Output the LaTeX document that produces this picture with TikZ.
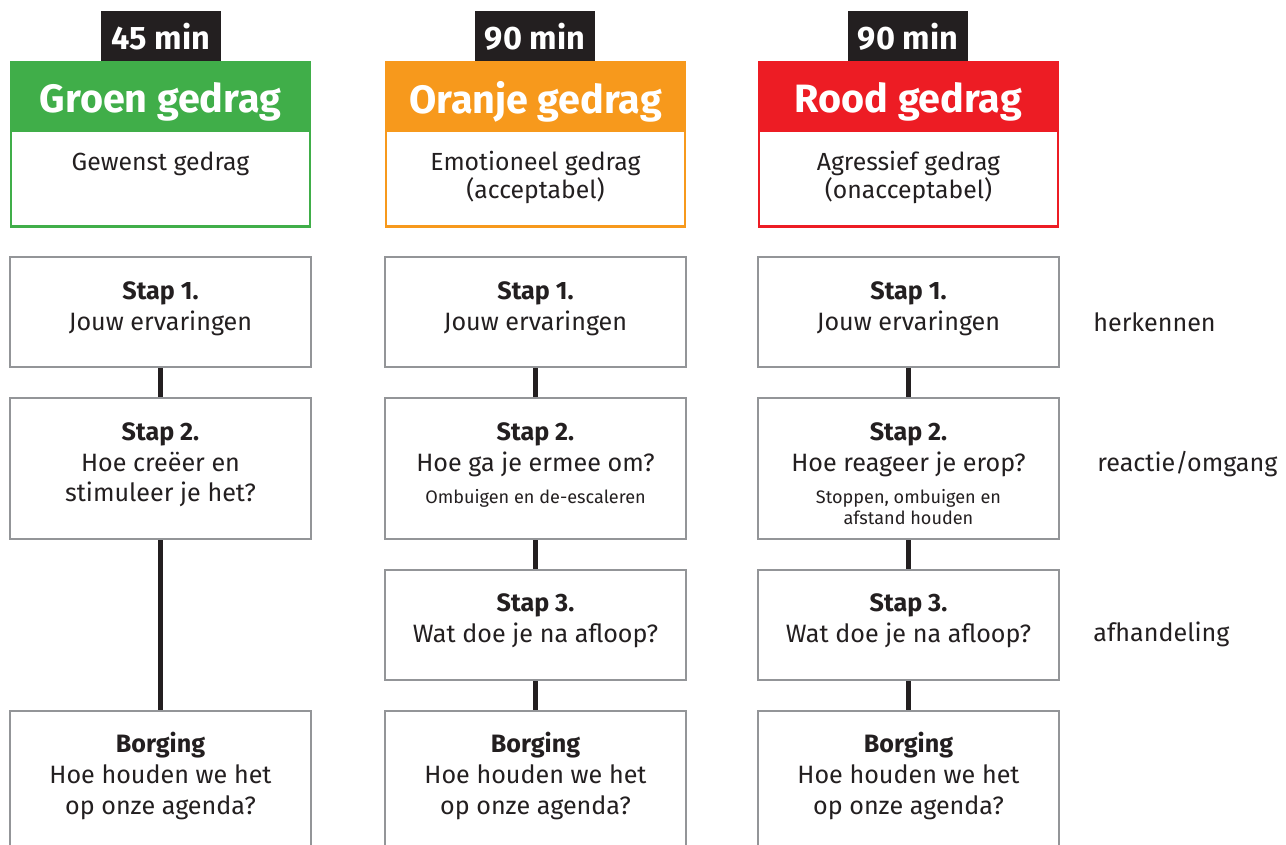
\documentclass[tikz,border=0pt]{standalone}
\usepackage{fontspec}
\setmainfont{Fira Sans}
\usepackage{tikz}
\usetikzlibrary{positioning}

\definecolor{groen}{HTML}{40AE49}
\definecolor{oranje}{HTML}{F7991C}
\definecolor{rood}{HTML}{ED1C24}
\definecolor{tabzwart}{HTML}{231F20}
\definecolor{rand}{HTML}{939598}

\begin{document}
\begin{tikzpicture}[
  x=0.02cm, y=-0.02cm,
  font=\fontsize{14.3}{17.4}\selectfont, text=tabzwart,
  timetab/.style={fill=tabzwart, text=white, minimum width=2.4cm, minimum height=1.02cm,
    inner sep=0pt, font=\fontsize{18.5}{20}\selectfont\bfseries},
  header/.style={fill=#1, text=white, minimum width=6.02cm, minimum height=1.4cm,
    inner sep=0pt, text depth=0pt, font=\fontsize{22.5}{24}\selectfont\bfseries},
  desc/.style={draw=#1, line width=1.2pt, fill=white, minimum width=5.98cm,
    inner sep=0pt, font=\fontsize{14.1}{14.4}\selectfont},
  stepbox/.style={draw=rand, line width=1.4pt, fill=white, minimum width=6.02cm,
    inner sep=0pt},
  link/.style={line width=2.8pt, draw=tabzwart},
  side/.style={anchor=west, inner sep=0pt}
]
\useasboundingbox (0,0) rectangle (1286,845);

  % Groen
  \node[timetab] (g-time) at (161,36.5) {45 min};
  \node[desc=groen] (g-desc) at (160.5,144.5)
    {\parbox[c][3.28cm][t]{5.9cm}{\centering\vspace*{1.78cm}Gewenst gedrag}};
  \node[header=groen] (g-head) at (160.5,97) {Groen gedrag};
  \node[stepbox] (g1) at (160.5,312)
    {\parbox[c][2.2cm][t]{5.9cm}{\centering\vspace*{0.5cm}\textbf{Stap 1.}\\Jouw ervaringen}};
  \node[stepbox] (g2) at (160.5,468.5)
    {\parbox[c][2.82cm][t]{5.9cm}{\centering\vspace*{0.5cm}\textbf{Stap 2.}\\Hoe creëer en\\stimuleer je het?}};
  \node[stepbox] (g4) at (160.5,785.5)
    {\parbox[c][2.98cm][t]{5.9cm}{\centering\vspace*{0.43cm}\textbf{Borging}\\Hoe houden we het\\op onze agenda?}};

  % Oranje
  \node[timetab] (o-time) at (535,36.5) {90 min};
  \node[desc=oranje] (o-desc) at (535.5,144.5)
    {\parbox[c][3.28cm][t]{5.9cm}{\centering\vspace*{1.78cm}Emotioneel gedrag\\(acceptabel)}};
  \node[header=oranje] (o-head) at (535.5,97) {Oranje gedrag};
  \node[stepbox] (o1) at (535.5,312)
    {\parbox[c][2.2cm][t]{5.9cm}{\centering\vspace*{0.5cm}\textbf{Stap 1.}\\Jouw ervaringen}};
  \node[stepbox] (o2) at (535.5,468.5)
    {\parbox[c][2.82cm][t]{5.9cm}{\centering\vspace*{0.5cm}\textbf{Stap 2.}\\Hoe ga je ermee om?\par
     \vspace{6pt}{\fontsize{10.3}{12}\selectfont Ombuigen en de-escaleren\par}}};
  \node[stepbox] (o3) at (535.5,625)
    {\parbox[c][2.2cm][t]{5.9cm}{\centering\vspace*{0.48cm}\textbf{Stap 3.}\\Wat doe je na afloop?}};
  \node[stepbox] (o4) at (535.5,785.5)
    {\parbox[c][2.98cm][t]{5.9cm}{\centering\vspace*{0.43cm}\textbf{Borging}\\Hoe houden we het\\op onze agenda?}};

  % Rood
  \node[timetab] (r-time) at (908,36.5) {90 min};
  \node[desc=rood] (r-desc) at (908.5,144.5)
    {\parbox[c][3.28cm][t]{5.9cm}{\centering\vspace*{1.78cm}Agressief gedrag\\(onacceptabel)}};
  \node[header=rood] (r-head) at (908.5,97) {Rood gedrag};
  \node[stepbox] (r1) at (908.5,312)
    {\parbox[c][2.2cm][t]{5.9cm}{\centering\vspace*{0.5cm}\textbf{Stap 1.}\\Jouw ervaringen}};
  \node[stepbox] (r2) at (908.5,468.5)
    {\parbox[c][2.82cm][t]{5.9cm}{\centering\vspace*{0.5cm}\textbf{Stap 2.}\\Hoe reageer je erop?\par
     \vspace{6pt}{\fontsize{10.3}{12}\selectfont Stoppen, ombuigen en\\afstand houden\par}}};
  \node[stepbox] (r3) at (908.5,625)
    {\parbox[c][2.2cm][t]{5.9cm}{\centering\vspace*{0.48cm}\textbf{Stap 3.}\\Wat doe je na afloop?}};
  \node[stepbox] (r4) at (908.5,785.5)
    {\parbox[c][2.98cm][t]{5.9cm}{\centering\vspace*{0.43cm}\textbf{Borging}\\Hoe houden we het\\op onze agenda?}};

  % Lijnen
  \draw[link] (g1) -- (g2);
  \draw[link] (g2) -- (g4);
  \draw[link] (o1) -- (o2);
  \draw[link] (o2) -- (o3);
  \draw[link] (o3) -- (o4);
  \draw[link] (r1) -- (r2);
  \draw[link] (r2) -- (r3);
  \draw[link] (r3) -- (r4);

  % Fasen
  \node[side] (f1) at (1093,322) {herkennen};
  \node[side] (f2) at (1097,464) {reactie/omgang};
  \node[side] (f3) at (1093,634) {afhandeling};

\end{tikzpicture}
\end{document}
